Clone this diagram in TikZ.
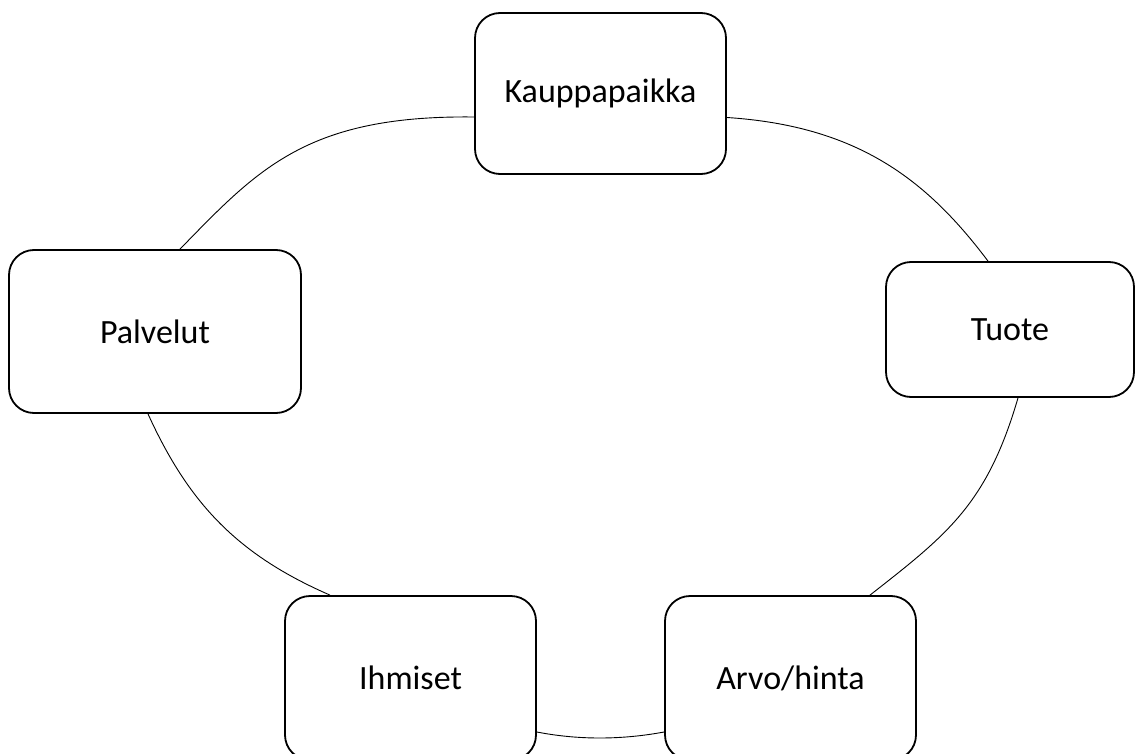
\documentclass[tikz,border=0pt]{standalone}
\usepackage{fontspec}
\setmainfont{Carlito}
\begin{document}
\begin{tikzpicture}[x=1pt,y=-1pt,
  cbox/.style={draw=black, line width=1.8pt, rounded corners=25pt, fill=white,
    inner sep=0pt, font=\fontsize{34}{40}\selectfont},
  link/.style={draw=black, line width=0.9pt}]
\useasboundingbox (0,0) rectangle (1135,754);
\node[cbox, minimum width=251pt, minimum height=161pt] (k) at (600.5,93.5) {Kauppapaikka};
\node[cbox, minimum width=248pt, minimum height=135pt] (t) at (1010,329.5) {Tuote};
\node[cbox, minimum width=251pt, minimum height=164pt] (a) at (790.5,678) {Arvo/hinta};
\node[cbox, minimum width=251pt, minimum height=164pt] (i) at (410.5,678) {Ihmiset};
\node[cbox, minimum width=292pt, minimum height=163pt] (p) at (155,331.5) {Palvelut};
\draw[link] ([yshift=-23.5pt]k.west) .. controls (307,115) and (258,169) .. ([xshift=25pt]p.north);
\draw[link] ([yshift=-24pt]k.east) .. controls (858,126) and (927,180) .. ([xshift=-22pt]t.north);
\draw[link] ([xshift=8pt]t.south) .. controls (987,504) and (948,534) .. ([xshift=79.5pt]a.north);
\draw[link] ([yshift=-54pt]a.west) .. controls (621,740) and (578,740) .. ([yshift=-54pt]i.east);
\draw[link] ([xshift=-80.5pt]i.north) .. controls (238,555) and (189,504) .. ([xshift=-7pt]p.south);
\end{tikzpicture}
\end{document}
